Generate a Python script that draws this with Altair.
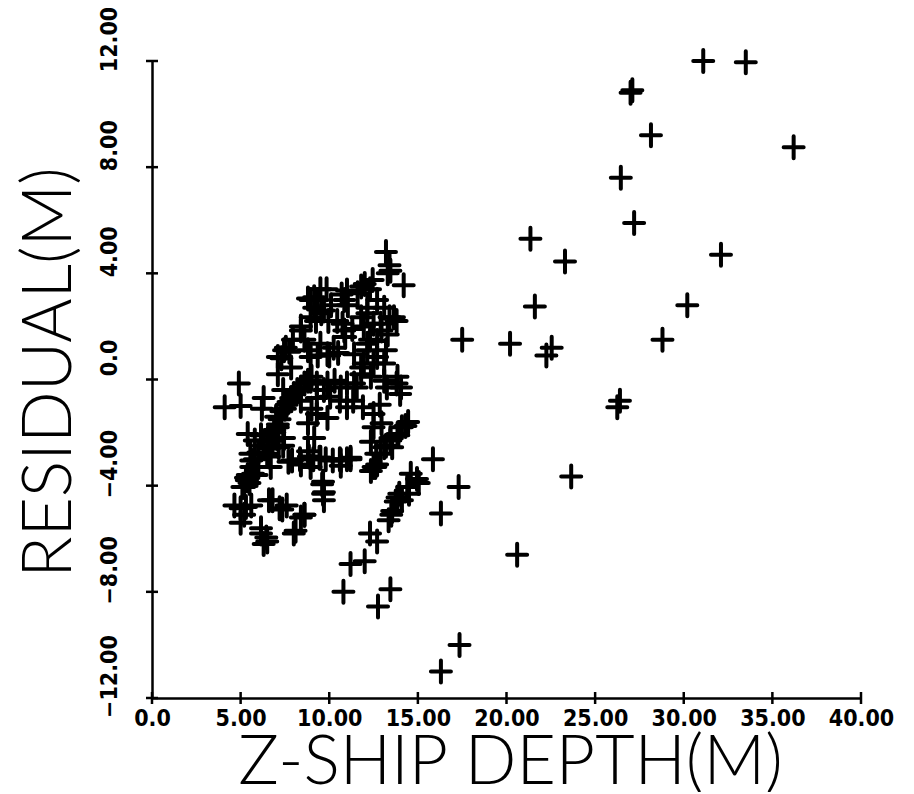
import altair as alt
import pandas as pd

# ---------------- data ----------------
depth = [
    # isolated points, right part
    31.1, 33.5, 27.0, 27.1, 28.15, 36.2, 26.45, 27.2, 32.1, 30.2, 28.8, 26.4, 26.25,
    21.35, 23.3, 21.6, 17.5, 20.2, 22.55, 22.25, 23.65, 15.85, 17.3, 16.3, 20.6,
    17.35, 16.3, 10.8, 12.75, 13.45, 11.2, 12.0, 12.3, 12.7,
    # diagonal strip
    13.35, 13.55, 13.75, 13.95, 14.1, 14.4, 14.6, 14.95, 15.05, 13.5, 13.85,
    8.6, 9.6, 9.7, 9.7, 11.2, 10.65, 12.7, 12.9, 13.2, 13.45, 13.85, 14.3, 12.35,
    14.2, 14.05, 14.5,
    # upper cluster
    13.2, 13.45, 12.45, 11.8, 11.0, 9.5, 9.15, 10.85, 9.7, 8.95, 13.1, 13.65, 12.9,
    12.15, 11.95, 10.45, 10.85, 8.6, 9.5, 10.25, 8.95, 9.9, 11.4, 12.15, 12.7, 13.3,
    12.5, 11.8, 12.35, 13.1, 13.85, 8.95, 9.9, 10.65, 11.4,
    13.4, 13.3, 12.0, 11.6, 12.3, 12.7, 13.4, 13.8, 12.15, 11.8, 12.5, 12.95, 12.3,
    13.2, 12.15, 12.7, 11.95, 13.1, 11.8, 9.85, 9.35, 9.15, 8.95, 10.1, 9.55, 9.25,
    9.95, 10.7, 11.05, 10.75, 11.3, 10.9, 8.4, 7.95, 7.55, 7.3, 8.8, 9.35, 10.0, 10.5,
    7.75, 8.8, 8.4, 7.45, 7.1, 7.1, 7.85,
    # middle band
    7.0, 7.3, 7.6, 7.85, 8.2, 8.6, 9.0, 7.4, 8.4, 9.3, 9.7, 10.05, 10.6, 11.0, 11.35,
    11.9, 12.5, 12.85, 13.25, 13.8, 14.0, 11.55, 11.0, 10.3, 9.3, 9.0, 9.3, 9.9,
    7.2, 7.5, 7.7, 8.0, 8.4, 8.8, 7.1, 6.9,
    # right middle
    12.5, 12.95, 14.1, 14.45, 13.9, 13.45, 13.1, 12.65, 12.5, 13.55, 12.35, 12.6,
    11.2, 10.65, 8.8, 9.15, 8.8, 9.5, 8.95,
    # left isolated
    4.1, 4.9, 5.0, 6.3, 6.2,
    # lower left
    5.4, 5.8, 6.15, 6.5, 6.8, 7.05, 7.45, 7.4, 5.55, 6.5, 5.6, 5.7, 5.3, 5.35, 5.1,
    5.2, 6.0, 6.7, 6.6, 7.15, 7.7, 8.35, 8.4, 8.85, 9.45, 10.2, 11.0, 9.65, 9.65,
    4.65, 5.0, 5.3, 5.6, 5.2, 5.0, 6.6, 6.8, 7.2, 7.35, 6.15, 6.15, 6.45, 6.3, 6.5,
    8.6, 8.4, 8.1, 8.0, 7.6,
    5.4, 5.6, 5.8, 6.0, 6.3, 6.6, 6.9, 7.1, 5.5, 5.9,
    7.9, 9.1, 9.8, 10.6,
]
residual = [
    12.0, 11.95, 10.8, 10.9, 9.2, 8.75, 7.6, 5.9, 4.7, 2.8, 1.5, -0.8, -1.05,
    5.3, 4.45, 2.75, 1.5, 1.35, 1.2, 0.9, -3.65, -3.0, -4.05, -5.05, -6.6,
    -10.0, -11.0, -8.0, -8.55, -7.9, -6.95, -6.85, -5.8, -6.1,
    -5.3, -4.95, -4.6, -4.3, -4.55, -4.05, -3.55, -3.75, -3.9, -5.1, -4.45,
    -5.1, -3.95, -4.25, -4.55, -3.0, -3.25, -3.2, -2.8, -2.5, -2.2, -2.05, -1.75, -3.45,
    3.55, -0.3, -4.3,
    4.8, 4.1, 3.75, 3.5, 3.35, 3.4, 3.1, 3.0, 2.6, 2.35, 2.7, 2.35, 2.1,
    2.5, 2.0, 2.2, 1.85, 1.5, 1.35, 1.2, 0.85, 0.95, 0.95, 1.35, 1.45, 1.7,
    0.6, 0.45, 0.1, -0.05, 0.1, -0.05, -0.15, -0.3, -0.15,
    4.3, 4.0, 3.6, 3.25, 3.4, 3.0, 2.35, 2.2, 2.7, 2.35, 2.1, 1.85, 1.5,
    1.1, 1.1, 0.85, 0.6, 0.6, 0.2, 3.4, 3.0, 2.7, 3.0, 2.8, 2.5, 2.2,
    2.2, 3.2, 2.8, 2.1, 1.9, 1.6, 1.85, 1.5, 1.2, 0.8, 1.1, 0.9, 0.9, 1.0,
    1.05, 3.05, 2.0, 1.1, 0.85, 0.2, 0.45,
    -1.4, -1.2, -0.95, -0.7, -0.4, -0.15, 0.1, -0.4, -0.8, -0.15, -0.4, -0.65, -0.8, -1.05, -0.8,
    -1.05, -1.3, -0.95, -0.3, -0.15, -0.55, -0.3, -0.15, -0.05, -0.7, -1.1, -1.3, -1.45,
    -1.5, -1.1, -0.85, -0.55, -0.3, -0.05, -1.7, -1.9,
    -1.8, -1.65, -1.8, -1.6, -2.1, -2.3, -2.55, -2.8, -3.3, -2.55, -2.35, -3.3,
    -2.95, -3.05, -1.65, -2.2, -2.7, -2.95, -3.3,
    -1.05, -0.15, -1.0, -0.7, -1.1,
    -2.05, -2.3, -2.1, -2.3, -2.3, -2.2, -2.2, -2.5, -2.8, -2.8, -3.05, -3.55, -3.7, -3.8, -4.05,
    -4.05, -3.3, -3.3, -2.9, -2.55, -3.1, -3.0, -3.2, -2.9, -2.95, -3.05, -3.0, -3.85, -4.3,
    -4.75, -4.85, -4.8, -4.75, -5.1, -5.4, -4.55, -4.55, -4.85, -4.9, -5.6, -5.8, -5.95, -6.2, -6.1,
    -5.1, -5.2, -5.7, -5.8, -4.75,
    -3.6, -3.3, -3.0, -2.75, -2.5, -2.6, -2.0, -1.8, -3.9, -3.6,
    -3.05, -3.0, -3.0, -3.0,
]

x_ticks = [0, 5, 10, 15, 20, 25, 30, 35, 40]
y_ticks = [-12, -8, -4, 0, 4, 8, 12]
x_title = "Z-SHIP DEPTH(M)"
y_title = "RESIDUAL(M)"

pts = pd.DataFrame({"depth": depth, "residual": residual})
xt = pd.DataFrame({"depth": x_ticks, "residual": [y_ticks[0]] * len(x_ticks)})
yt = pd.DataFrame({"residual": y_ticks, "depth": [x_ticks[0]] * len(y_ticks)})

xs = alt.Scale(domain=[x_ticks[0], x_ticks[-1]], nice=False, zero=False)
ys = alt.Scale(domain=[y_ticks[0], y_ticks[-1]], nice=False, zero=False)

label_expr = "datum.value == 0 ? '0.0' : format(datum.value, '.2f')"
LABEL_FONT = "DejaVu Sans Condensed, Liberation Sans, sans-serif"
TITLE_FONT = "Lato, Roboto, DejaVu Sans, sans-serif"

x_axis = alt.Axis(
    values=x_ticks, labelExpr=label_expr, ticks=False, grid=False,
    labelPadding=9, labelAngle=0, labelFlush=False, labelOverlap=False,
    labelFontSize=23,
    title=x_title, titleX=358, titleY=85, titleBaseline="alphabetic",
    titleAlign="center", titleAnchor="start",
)
y_axis = alt.Axis(
    values=y_ticks, labelExpr=label_expr, ticks=False, grid=False,
    labelPadding=31, labelAngle=270, labelAlign="center", labelBaseline="bottom",
    labelOffset=-22, labelFlush=False, labelOverlap=False, labelFontSize=23,
    title=y_title, titleX=-82, titleY=311, titleAngle=270,
    titleBaseline="alphabetic", titleAlign="center", titleAnchor="start",
)

X = alt.X("depth:Q", scale=xs, axis=x_axis)
Y = alt.Y("residual:Q", scale=ys, axis=y_axis)

points = alt.Chart(pts).mark_point(
    shape="M-1,0H1M0,-1.1V1.1", size=400, filled=False, strokeWidth=4,
    strokeCap="round", color="black", opacity=1,
).encode(x=X, y=Y)

xtick_marks = alt.Chart(xt).mark_tick(
    orient="vertical", size=12, thickness=2.5, color="black", opacity=1
).encode(x=X, y=Y)

ytick_marks = alt.Chart(yt).mark_tick(
    orient="horizontal", size=12, thickness=2.5, color="black", opacity=1
).encode(x=X, y=Y)

chart = alt.layer(points, xtick_marks, ytick_marks).properties(
    width=709, height=637,
    autosize=alt.AutoSizeParams(type="none"),
    padding={"left": 144, "top": 53, "right": 40, "bottom": 94},
    background="white",
).configure_view(stroke=None).configure_axis(
    domainColor="black", domainWidth=2.5,
    labelFont=LABEL_FONT, labelFontWeight="bold", labelColor="black",
    titleFont=TITLE_FONT, titleFontSize=68, titleFontWeight=300, titleColor="black",
)

chart.save("out.html", embed_options={"renderer": "svg", "actions": False})
